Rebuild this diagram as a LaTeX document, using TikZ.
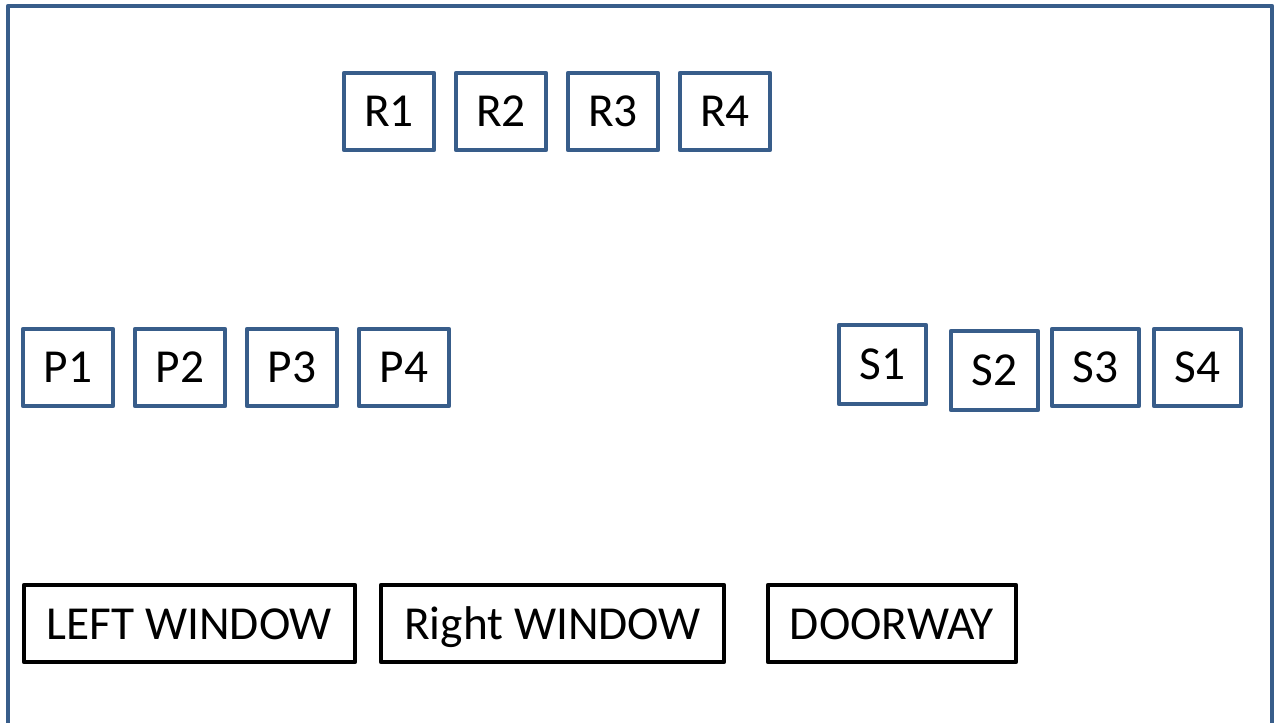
\documentclass[tikz,border=0pt]{standalone}
\usepackage{fontspec}
\setmainfont{Carlito}
\definecolor{frameblue}{HTML}{385D8A}

\begin{document}
\begin{tikzpicture}[x=0.75pt,y=-0.75pt,
    seat/.style={draw=frameblue, line width=3.6pt, line join=round, inner sep=0pt, minimum width=67.5pt, minimum height=57.75pt, font=\fontsize{35.5}{42}\selectfont},
    opening/.style={draw=black, line width=3.6pt, line join=round, inner sep=0pt, minimum height=57.75pt, text height=24pt, text depth=0pt, font=\fontsize{35.5}{42}\selectfont}]
        \useasboundingbox (0,0) rectangle (1279,722);
        \draw[frameblue, line width=3.6pt, line join=round] (8,740) -- (8,6) -- (1272,6) -- (1272,740);
        % top row
        \node[seat] (R1) at (389,111.5) {R1};
        \node[seat] (R2) at (501,111.5) {R2};
        \node[seat] (R3) at (613,111.5) {R3};
        \node[seat] (R4) at (725,111.5) {R4};
        % left row
        \node[seat] (P1) at (68,367.5) {P1};
        \node[seat] (P2) at (180,367.5) {P2};
        \node[seat] (P3) at (292,367.5) {P3};
        \node[seat] (P4) at (404,367.5) {P4};
        % right row
        \node[seat, minimum width=65.25pt, minimum height=59.25pt] (S1) at (882.5,364.5) {S1};
        \node[seat, minimum width=65.25pt, minimum height=59.25pt] (S2) at (994.5,370.5) {S2};
        \node[seat, minimum width=65.25pt] (S3) at (1095.5,367.5) {S3};
        \node[seat, minimum width=65.25pt] (S4) at (1197.5,367.5) {S4};
        % openings
        \node[opening, minimum width=248.25pt] (LW) at (189.5,623.5) {LEFT WINDOW};
        \node[opening, minimum width=257.25pt] (RW) at (552.5,623.5) {Right WINDOW};
        \node[opening, minimum width=186pt] (DW) at (892,623.5) {DOORWAY};
    \end{tikzpicture}
\end{document}
